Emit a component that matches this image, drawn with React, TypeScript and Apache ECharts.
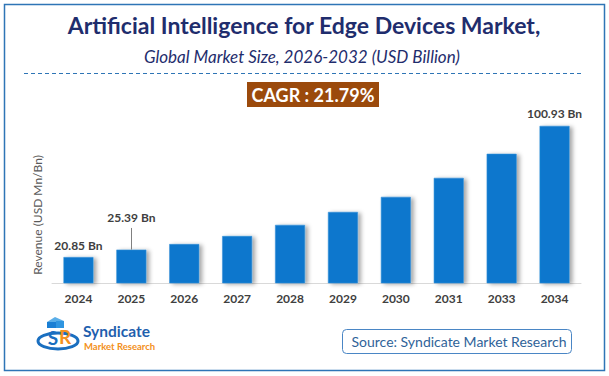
import React, { useEffect, useRef } from "react";
import * as echarts from "echarts";

const categories = ["2024", "2025", "2026", "2027", "2028", "2029", "2030", "2031", "2033", "2034"];
const revenue = [20.85, 25.39, 28.8, 33.7, 40.5, 48.4, 57.6, 69.2, 83.9, 100.93];
const labeledYears = ["2024", "2025", "2034"];
const leaderLineTop = 38.6;

const titleText = "Artificial Intelligence for Edge Devices Market,";
const subtitleText = "Global Market Size, 2026-2032 (USD Billion)";
const cagrText = "CAGR : 21.79%";
const yAxisName = "Revenue (USD Mn/Bn)";
const sourceText = "Source: Syndicate Market Research";

const FONT = "Lato, 'Open Sans', sans-serif";

export default function App() {
  const ref = useRef<HTMLDivElement>(null);

  useEffect(() => {
    if (!ref.current) return;
    const chart = echarts.init(ref.current, null, { renderer: "svg" });

    const data = revenue.map((v, i) => {
      const cat = categories[i];
      if (!labeledYears.includes(cat)) return { value: v };
      return {
        value: v,
        label: {
          show: true,
          position: "top",
          distance: cat === "2025" ? 26 : 6,
          formatter: (p: any) => `${p.value} Bn`,
          color: "#404040",
          fontWeight: "bold",
          fontSize: 12,
          fontFamily: FONT,
        },
      };
    });

    chart.setOption({
      animation: false,
      backgroundColor: "#ffffff",
      grid: { left: 52, right: 28, top: 111, bottom: 93 },
      xAxis: {
        type: "category",
        data: categories,
        axisLine: { show: true, lineStyle: { color: "#d9d9d9", width: 1 } },
        axisTick: { show: false },
        axisLabel: {
          color: "#404040",
          fontWeight: "bold",
          fontSize: 12,
          fontFamily: FONT,
          margin: 9,
        },
      },
      yAxis: {
        type: "value",
        min: 5,
        max: 110,
        show: false,
        splitLine: { show: false },
      },
      series: [
        {
          type: "bar",
          data,
          barWidth: 30,
          itemStyle: {
            color: "#0777cd",
            borderColor: "#3a92d8",
            borderWidth: 0.6,
            shadowColor: "rgba(0,0,0,0.35)",
            shadowBlur: 4,
            shadowOffsetX: 3,
            shadowOffsetY: 1,
          },
          markLine: {
            silent: true,
            symbol: ["none", "none"],
            label: { show: false },
            lineStyle: { color: "#808080", width: 1, type: "solid" },
            data: [
              [
                { coord: ["2025", revenue[1]] },
                { coord: ["2025", leaderLineTop] },
              ],
            ],
          },
        },
      ],
      graphic: [
        {
          type: "rect",
          shape: { x: 4.5, y: 4.5, width: 600, height: 366 },
          style: { fill: "none", stroke: "#2e75b6", lineWidth: 1.5 },
          silent: true,
        },
        {
          type: "text",
          x: 304,
          y: 25,
          style: {
            text: titleText,
            fill: "#1f2d6d",
            font: `bold 23px ${FONT}`,
            align: "center",
            verticalAlign: "middle",
          },
        },
        {
          type: "text",
          x: 302,
          y: 56,
          style: {
            text: subtitleText,
            fill: "#1f2d6d",
            font: `italic 17px ${FONT}`,
            align: "center",
            verticalAlign: "middle",
          },
        },
        {
          type: "line",
          shape: { x1: 24, y1: 73.5, x2: 582, y2: 73.5 },
          style: { stroke: "#2e75b6", lineWidth: 1, lineDash: [4, 3] },
        },
        {
          type: "rect",
          shape: { x: 247, y: 82, width: 132, height: 25 },
          style: { fill: "#9b4a0c" },
        },
        {
          type: "text",
          x: 313,
          y: 95,
          style: {
            text: cagrText,
            fill: "#ffffff",
            font: `bold 18px ${FONT}`,
            align: "center",
            verticalAlign: "middle",
          },
        },
        {
          type: "text",
          x: 37,
          y: 215,
          rotation: Math.PI / 2,
          style: {
            text: yAxisName,
            fill: "#595959",
            font: `12px ${FONT}`,
            align: "center",
            verticalAlign: "middle",
          },
        },
        // logo
        {
          type: "ellipse",
          shape: { cx: 58, cy: 341, rx: 20, ry: 8 },
          style: { fill: "none", stroke: "#1a6fc0", lineWidth: 3 },
        },
        {
          type: "polygon",
          shape: { points: [[47, 322], [55, 317], [64, 321], [56, 326]] },
          style: { fill: "#5aaee8" },
        },
        {
          type: "rect",
          shape: { x: 47, y: 322, width: 9, height: 6 },
          style: { fill: "#1a7fd4" },
        },
        {
          type: "rect",
          shape: { x: 56, y: 321, width: 8, height: 7 },
          style: { fill: "#2f95e0" },
        },
        {
          type: "text",
          x: 53,
          y: 337,
          style: {
            text: "S",
            fill: "#1a6fc0",
            font: `bold 19px ${FONT}`,
            align: "center",
            verticalAlign: "middle",
          },
        },
        {
          type: "text",
          x: 65,
          y: 336,
          style: {
            text: "R",
            fill: "#f39020",
            font: `bold 19px ${FONT}`,
            align: "center",
            verticalAlign: "middle",
          },
        },
        {
          type: "text",
          x: 83,
          y: 330.5,
          style: {
            text: "Syndicate",
            fill: "#1f5fae",
            font: `bold 15.5px ${FONT}`,
            align: "left",
            verticalAlign: "middle",
          },
        },
        {
          type: "text",
          x: 84,
          y: 346,
          style: {
            text: "Market Research",
            fill: "#f39020",
            font: `bold 9.5px ${FONT}`,
            align: "left",
            verticalAlign: "middle",
          },
        },
        // source box
        {
          type: "rect",
          shape: { x: 342.5, y: 329.5, width: 229, height: 24, r: 4 },
          style: { fill: "#ffffff", stroke: "#4a86c5", lineWidth: 1 },
        },
        {
          type: "text",
          x: 459,
          y: 341.5,
          style: {
            text: sourceText,
            fill: "#2f6399",
            font: `14px ${FONT}`,
            align: "center",
            verticalAlign: "middle",
          },
        },
      ],
    });

    return () => chart.dispose();
  }, []);

  return (
    <div
      ref={ref}
      style={{ position: "absolute", left: 0, top: 0, width: 609, height: 376 }}
    />
  );
}
